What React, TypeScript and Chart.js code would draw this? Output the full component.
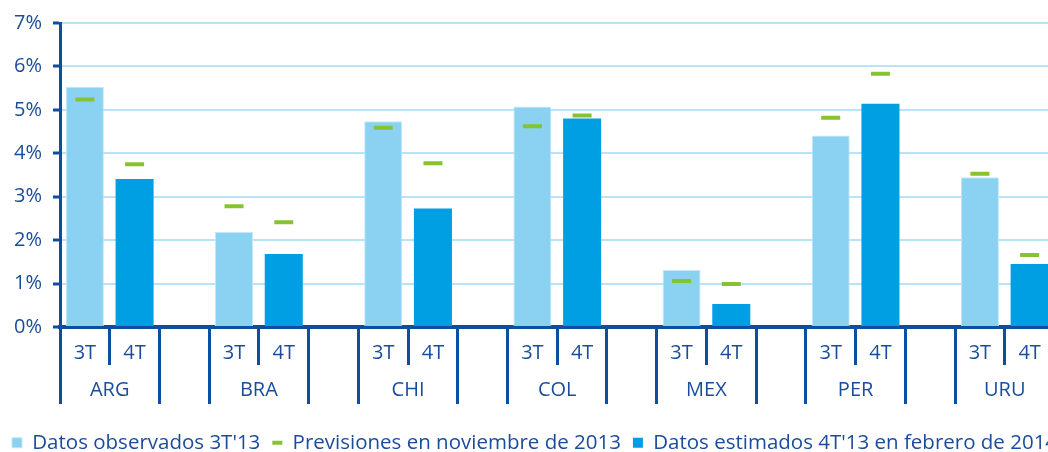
import React, { useEffect, useRef } from 'react';
import { Chart, registerables } from 'chart.js';

Chart.register(...registerables);

const countries = ['ARG', 'BRA', 'CHI', 'COL', 'MEX', 'PER', 'URU'];
const quarterLabels = ['3T', '4T'];
const observed3T = [5.53, 2.19, 4.74, 5.08, 1.31, 4.41, 3.45];
const estimated4T = [3.41, 1.68, 2.73, 4.8, 0.53, 5.14, 1.45];
const forecast3T = [5.24, 2.78, 4.59, 4.62, 1.06, 4.82, 3.53];
const forecast4T = [3.75, 2.41, 3.77, 4.87, 0.99, 5.83, 1.66];
const yTickLabels = ['0%', '1%', '2%', '3%', '4%', '5%', '6%', '7%'];
const legendLabels = [
  "Datos observados 3T'13",
  'Previsiones en noviembre de 2013',
  "Datos estimados 4T'13 en febrero de 2014",
];

const TEXT = '#1A4C9C';
const AXIS = '#0D4EA1';
const GRID = '#B8E4F8';
const LIGHT = '#8AD1F2';
const BLUE = '#009FE3';
const GREEN = '#86C232';
const FONT = 'Open Sans';
const FS = 20;

// slot layout: 3T, 4T, gap per country (no gap after the last one)
const slotLabels: string[] = [];
const slotCountry: number[] = [];
countries.forEach((_, i) => {
  slotLabels.push(quarterLabels[0], quarterLabels[1]);
  slotCountry.push(i, i);
  if (i < countries.length - 1) {
    slotLabels.push('');
    slotCountry.push(-1);
  }
});
const nSlots = slotLabels.length;

const obsData = slotLabels.map((l, s) => (l === quarterLabels[0] ? observed3T[slotCountry[s]] : null));
const estData = slotLabels.map((l, s) => (l === quarterLabels[1] ? estimated4T[slotCountry[s]] : null));
const fcData = slotLabels.map((l, s) =>
  l === quarterLabels[0] ? forecast3T[slotCountry[s]] : l === quarterLabels[1] ? forecast4T[slotCountry[s]] : null
);

// second axis: country centres and group boundaries
const countryCenters = countries.map((_, i) => i * 3 + 0.5);
const boundaries: number[] = [-0.5];
countries.forEach((_, i) => {
  boundaries.push(i * 3 + 1.5);
  if (i < countries.length - 1) boundaries.push(i * 3 + 2.5);
});
const x2Ticks = [...countryCenters, ...boundaries].sort((a, b) => a - b);

const W = 1200;
const H = 463;

export default function App() {
  const ref = useRef<HTMLCanvasElement | null>(null);
  useEffect(() => {
    document.body.style.margin = '0';
    const canvas = ref.current!;
    const chart = new Chart(canvas, {
      type: 'bar',
      data: {
        labels: slotLabels,
        datasets: [
          {
            label: legendLabels[0],
            data: obsData,
            backgroundColor: LIGHT,
            borderColor: '#C2E8F9',
            borderWidth: 1,
            pointStyle: 'rect',
            grouped: false,
            barPercentage: 0.765,
            categoryPercentage: 1,
            order: 2,
          } as any,
          {
            type: 'line',
            label: legendLabels[1],
            data: fcData,
            showLine: false,
            pointStyle: 'line',
            pointRadius: 9.5,
            pointHoverRadius: 9.5,
            pointBorderWidth: 4,
            borderWidth: 3.5,
            borderColor: GREEN,
            backgroundColor: GREEN,
            pointBorderColor: GREEN,
            order: 0,
          } as any,
          {
            label: legendLabels[2],
            data: estData,
            backgroundColor: BLUE,
            borderWidth: 0,
            pointStyle: 'rect',
            grouped: false,
            barPercentage: 0.765,
            categoryPercentage: 1,
            order: 1,
          } as any,
        ],
      },
      options: {
        responsive: false,
        animation: false,
        events: [],
        layout: { padding: { top: 22, left: 0, right: 0, bottom: 0 } },
        plugins: {
          tooltip: { enabled: false },
          legend: {
            position: 'bottom',
            align: 'start',
            labels: {
              usePointStyle: true,
              pointStyleWidth: 10,
              boxHeight: 10,
              padding: 12,
              color: TEXT,
              font: { family: FONT, size: 20.5 },
              sort: (a: any, b: any) => a.datasetIndex - b.datasetIndex,
            },
          },
        },
        scales: {
          x: {
            type: 'category',
            offset: true,
            grid: {
              offset: true,
              drawOnChartArea: false,
              drawTicks: true,
              tickLength: 38,
              color: AXIS,
              lineWidth: 3,
            },
            border: { display: true, color: AXIS, width: 4 },
            ticks: {
              color: TEXT,
              font: { family: FONT, size: FS },
              padding: -24,
              autoSkip: false,
              maxRotation: 0,
            },
            afterFit: (s: any) => {
              s.height = 38;
            },
          },
          x2: {
            type: 'linear',
            position: 'bottom',
            offset: false,
            min: -0.5,
            max: nSlots - 0.5,
            afterBuildTicks: (s: any) => {
              s.ticks = x2Ticks.map((v) => ({ value: v }));
            },
            grid: {
              offset: false,
              drawOnChartArea: false,
              tickLength: 39,
              lineWidth: 3,
              color: (ctx: any) =>
                ctx.tick && boundaries.includes(ctx.tick.value) ? AXIS : 'rgba(0,0,0,0)',
            },
            border: { display: false },
            ticks: {
              color: TEXT,
              font: { family: FONT, size: FS },
              padding: -25.5,
              autoSkip: false,
              maxRotation: 0,
              callback: (v: any) => {
                const idx = countryCenters.indexOf(Number(v));
                return idx >= 0 ? countries[idx] : '';
              },
            },
            afterFit: (s: any) => {
              s.height = 55.5;
            },
          },
          y: {
            min: 0,
            max: 7,
            ticks: {
              stepSize: 1,
              color: TEXT,
              font: { family: FONT, size: FS },
              padding: 11,
              callback: (v: any) => yTickLabels[Number(v)] ?? '',
            },
            grid: {
              color: GRID,
              lineWidth: 2,
              tickColor: AXIS,
              tickWidth: 3,
              tickLength: 7,
            },
            border: { color: AXIS, width: 3 },
            afterFit: (s: any) => {
              s.width = 60;
            },
          },
          yR: {
            type: 'linear',
            position: 'right',
            display: true,
            grid: { display: false, drawTicks: false },
            border: { display: false },
            ticks: { display: false },
            afterFit: (s: any) => {
              s.width = W - 1054.5;
            },
          },
        },
      } as any,
    });
    return () => chart.destroy();
  }, []);

  return (
    <div style={{ width: 1048, height: 452, overflow: 'hidden', position: 'relative' }}>
      <canvas ref={ref} width={W} height={H} style={{ display: 'block' }} />
    </div>
  );
}
